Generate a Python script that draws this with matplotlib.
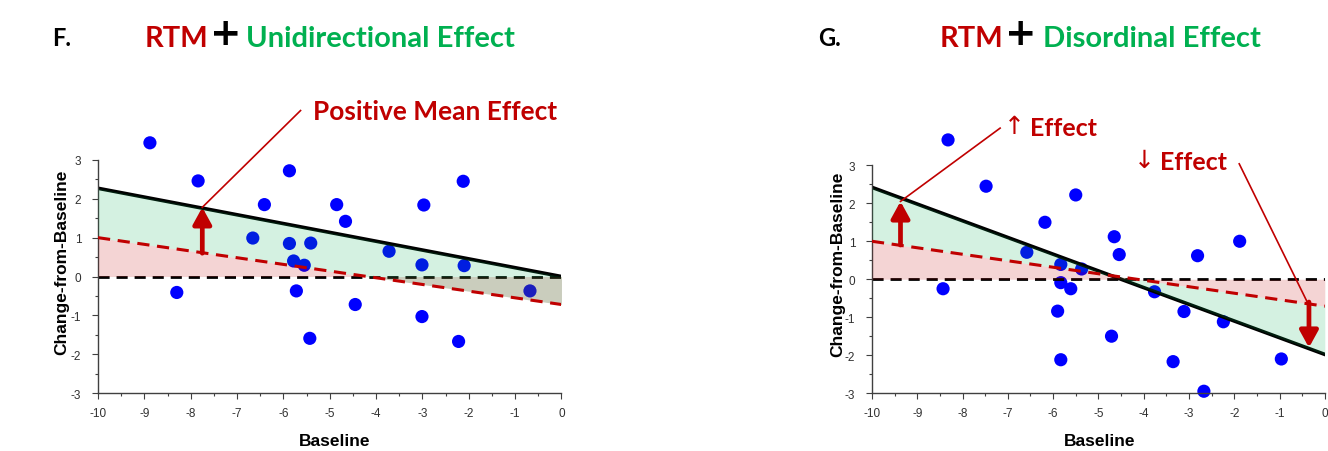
import numpy as np
import matplotlib.pyplot as plt

plt.rcParams['axes.unicode_minus'] = False

# panel F data
f_x = [-8.88, -7.84, -8.30, -6.41, -6.66, -5.87, -5.87, -5.78, -5.55, -5.41, -5.72, -5.43,
       -4.85, -4.66, -4.45, -3.72, -2.97, -3.01, -3.01, -2.12, -2.10, -2.22, -0.68]
f_y = [3.44, 2.46, -0.41, 1.85, 0.99, 2.72, 0.85, 0.40, 0.29, 0.86, -0.37, -1.59,
       1.85, 1.42, -0.72, 0.65, 1.84, 0.30, -1.03, 2.45, 0.28, -1.67, -0.37]
f_fit = [2.27, 0.0]      # change line at baseline -10 and 0
f_rtm = [1.0, -0.72]     # RTM line at baseline -10 and 0

# panel G data
g_x = [-8.32, -7.48, -8.43, -5.50, -6.18, -6.58, -5.83, -5.37, -5.83, -5.61, -5.90, -5.83,
       -4.65, -4.54, -4.71, -3.76, -3.11, -2.81, -2.24, -1.88, -3.35, -2.67, -0.96]
g_y = [3.67, 2.45, -0.25, 2.22, 1.50, 0.71, 0.39, 0.27, -0.09, -0.25, -0.84, -2.12,
       1.12, 0.65, -1.50, -0.33, -0.85, 0.62, -1.12, 1.00, -2.17, -2.95, -2.10]
g_fit = [2.42, -1.98]
g_rtm = [1.0, -0.71]

line_x = [-10, 0]
dark_red = '#c00000'
green = '#00b050'
title_font = 'Lato'

fig = plt.figure(figsize=(13.28, 4.52), dpi=100)
ax_f = fig.add_axes([0.0738, 0.128, 0.349, 0.516])
ax_g = fig.add_axes([0.6566, 0.128, 0.341, 0.504])


def draw_panel(ax, xs, ys, fit, rtm):
    xx = np.linspace(-10, 0, 200)
    fit_y = np.interp(xx, line_x, fit)
    rtm_y = np.interp(xx, line_x, rtm)
    ax.scatter(xs, ys, s=90, color='#0000ff', zorder=2, clip_on=False, edgecolors='none')
    ax.plot(line_x, fit, color='black', lw=2.6, zorder=2)
    ax.plot(line_x, [0, 0], color='black', lw=2, ls=(0, (4, 2.5)), zorder=2)
    # pink first, green on top of it
    ax.fill_between(xx, rtm_y, 0, color=dark_red, alpha=0.17, lw=0, zorder=3)
    ax.fill_between(xx, fit_y, rtm_y, color=green, alpha=0.17, lw=0, zorder=3)
    ax.plot(line_x, rtm, color=dark_red, lw=2.2, ls=(0, (4, 2.5)), zorder=4)

    ax.set_xlim(-10, 0)
    ax.set_ylim(-3, 3)
    ax.set_xticks(range(-10, 1))
    ax.set_yticks(range(-3, 4))
    ax.set_xticks(np.arange(-9.5, 0, 1), minor=True)
    ax.set_yticks(np.arange(-2.5, 3, 1), minor=True)
    ax.tick_params(which='major', length=4, width=0.8, color='#404040',
                   labelsize=8.5, labelcolor='#303030')
    ax.tick_params(which='minor', length=2.5, width=0.8, color='#404040')
    ax.tick_params(axis='y', pad=8)
    ax.tick_params(axis='x', pad=6)
    for lab in ax.get_xticklabels() + ax.get_yticklabels():
        lab.set_family('Liberation Sans')
    for s in ['top', 'right']:
        ax.spines[s].set_visible(False)
    for s in ['left', 'bottom']:
        ax.spines[s].set_color('#404040')
        ax.spines[s].set_linewidth(1)
    ax.set_xlabel('Baseline', fontsize=12.5, fontweight='bold', family='Liberation Sans', va='center')
    ax.set_ylabel('Change-from-Baseline', fontsize=12.5, fontweight='bold', family='Liberation Sans',
                  va='center')


def red_arrow(ax, x, y0, y1):
    ax.annotate('', xy=(x, y1), xytext=(x, y0),
                arrowprops=dict(arrowstyle='-|>,head_width=0.55,head_length=1.0',
                                lw=3.4, color=dark_red, shrinkA=0, shrinkB=0),
                zorder=5)


draw_panel(ax_f, f_x, f_y, f_fit, f_rtm)
ax_f.xaxis.set_label_coords(0.51, -0.203)
ax_f.yaxis.set_label_coords(-0.078, 0.567)
red_arrow(ax_f, -7.75, 0.6, 1.78)
ax_f.plot([-7.75, -5.63], [1.78, 4.27], color=dark_red, lw=1.2, clip_on=False, zorder=5)

draw_panel(ax_g, g_x, g_y, g_fit, g_rtm)
ax_g.xaxis.set_label_coords(0.503, -0.21)
ax_g.yaxis.set_label_coords(-0.076, 0.568)
red_arrow(ax_g, -9.37, 0.9, 2.05)
red_arrow(ax_g, -0.35, -0.6, -1.8)
ax_g.plot([-9.37, -7.17], [2.05, 3.98], color=dark_red, lw=1.2, clip_on=False, zorder=5)
ax_g.plot([-1.89, -0.38], [3.04, -0.62], color=dark_red, lw=1.2, clip_on=False, zorder=5)

# titles
W, H = 1328, 452


def ftext(px, py, s, **kw):
    fig.text(px / W, 1 - py / H, s, va='center', **kw)


ftext(52, 39, 'F.', fontsize=17, fontweight='bold', family=title_font, color='black')
ftext(145, 39, 'RTM', fontsize=21, fontweight='bold', family=title_font, color=dark_red)
ftext(226, 35, '+', fontsize=27, fontweight='bold', family='DejaVu Sans', color='black', ha='center')
ftext(246, 39, 'Unidirectional Effect', fontsize=21, fontweight='bold', family=title_font, color=green)

ftext(818, 39, 'G.', fontsize=17, fontweight='bold', family=title_font, color='black')
ftext(940, 39, 'RTM', fontsize=21, fontweight='bold', family=title_font, color=dark_red)
ftext(1021, 35, '+', fontsize=27, fontweight='bold', family='DejaVu Sans', color='black', ha='center')
ftext(1043, 39, 'Disordinal Effect', fontsize=21, fontweight='bold', family=title_font, color=green)

ftext(313, 112, 'Positive Mean Effect', fontsize=18.9, fontweight='bold', family=title_font, color=dark_red)
ftext(1004, 127, '\u2191', fontsize=18, family='DejaVu Sans', color=dark_red)
ftext(1030, 129, 'Effect', fontsize=18, fontweight='bold', family=title_font, color=dark_red)
ftext(1134, 161, '\u2193', fontsize=18, family='DejaVu Sans', color=dark_red)
ftext(1160, 163, 'Effect', fontsize=18, fontweight='bold', family=title_font, color=dark_red)

fig.savefig('out.png', dpi=100)
